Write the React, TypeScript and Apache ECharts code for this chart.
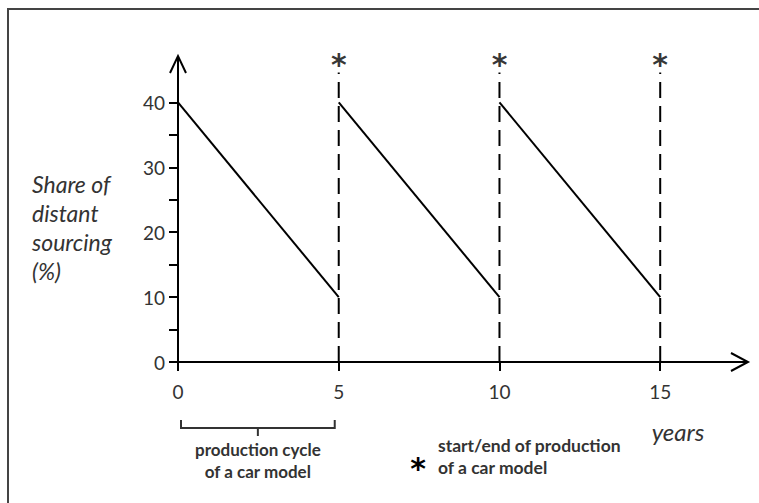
import React, { useEffect, useRef } from "react";
import * as echarts from "echarts";

// ---- data ----
const cycleStartYears = [0, 5, 10];
const cycleEndYears = [5, 10, 15];
const startShares = [40, 40, 40];
const endShares = [10, 10, 10];
const markerYears = [5, 10, 15];
const markerTop = 44.6;
const asteriskLevel = 45.8;
const xTickValues = [0, 5, 10, 15];
const yLabelValues = [0, 10, 20, 30, 40];
const yTickValues = [0, 5, 10, 15, 20, 25, 30, 35, 40];

// ---- layout ----
const W = 759;
const H = 503;
const gridLeft = 178;
const gridRight = 12;
const gridTop = 57;
const gridBottom = 141;
const xMin = 0;
const xMax = 17.7;
const yMin = 0;
const yMax = 47;
const FONT = "Lato, 'Open Sans', sans-serif";
const TXT = "#333";

export default function App() {
  const ref = useRef<HTMLDivElement>(null);
  useEffect(() => {
    if (!ref.current) return;
    const chart = echarts.init(ref.current, undefined, { renderer: "svg" });
    const plotW = W - gridLeft - gridRight;
    const xPx = (v: number) => gridLeft + ((v - xMin) / (xMax - xMin)) * plotW;
    const axisY = H - gridBottom;
    const xEndPx = W - gridRight;

    const cycleSeries = cycleStartYears.map((s, i) => ({
      type: "line",
      data: [
        [s, startShares[i]],
        [cycleEndYears[i], endShares[i]],
      ],
      symbol: "none",
      lineStyle: { color: "#000", width: 2 },
      silent: true,
      z: 3,
    }));
    const markerSeries = markerYears.map((m) => ({
      type: "line",
      data: [
        [m, 0],
        [m, markerTop],
      ],
      symbol: "none",
      lineStyle: { color: "#000", width: 2, type: [16, 8] },
      silent: true,
      z: 2,
    }));
    const asteriskSeries = {
      type: "scatter",
      data: markerYears.map((m) => [m, asteriskLevel]),
      symbolSize: 0,
      silent: true,
      label: {
        show: true,
        position: "inside",
        formatter: "*",
        fontSize: 30,
        fontWeight: "bold",
        fontFamily: "'DejaVu Sans', sans-serif",
        color: "#000",
      },
    };

    const bx0 = xPx(0) + 3;
    const bx1 = xPx(5) - 4;
    const bmid = (bx0 + bx1) / 2;

    chart.setOption({
      animation: false,
      backgroundColor: "#fff",
      grid: { left: gridLeft, right: gridRight, top: gridTop, bottom: gridBottom },
      xAxis: {
        type: "value",
        min: xMin,
        max: xMax,
        interval: 5,
        splitLine: { show: false },
        axisLine: { show: true, onZero: false, lineStyle: { color: "#000", width: 2 } },
        axisTick: { show: true, length: 9, customValues: xTickValues, lineStyle: { color: "#000", width: 2 } },
        axisLabel: {
          customValues: xTickValues,
          margin: 20,
          fontSize: 19,
          color: TXT,
          fontFamily: FONT,
        },
      },
      yAxis: {
        type: "value",
        min: yMin,
        max: yMax,
        interval: 5,
        splitLine: { show: false },
        axisLine: { show: true, onZero: false, lineStyle: { color: "#000", width: 2 } },
        axisTick: { show: true, length: 9, customValues: yTickValues, lineStyle: { color: "#000", width: 2 } },
        axisLabel: {
          customValues: yLabelValues,
          margin: 13,
          fontSize: 19,
          color: TXT,
          fontFamily: FONT,
        },
      },
      series: [...cycleSeries, ...markerSeries, asteriskSeries],
      graphic: [
        {
          type: "rect",
          shape: { x: 8, y: 9, width: 760, height: 500 },
          style: { fill: "none", stroke: "#444", lineWidth: 2 },
          silent: true,
        },
        {
          type: "polyline",
          shape: { points: [[gridLeft - 8, gridTop + 16], [gridLeft, gridTop - 1], [gridLeft + 8, gridTop + 16]] },
          style: { fill: "none", stroke: "#000", lineWidth: 2 },
          silent: true,
        },
        {
          type: "polyline",
          shape: { points: [[xEndPx - 16, axisY - 9], [xEndPx + 1, axisY], [xEndPx - 16, axisY + 9]] },
          style: { fill: "none", stroke: "#000", lineWidth: 2 },
          silent: true,
        },
        {
          type: "text",
          left: 32,
          top: 169,
          style: {
            text: "Share of\ndistant\nsourcing\n(%)",
            fontSize: 23,
            fontStyle: "italic",
            lineHeight: 29,
            fill: TXT,
            fontFamily: FONT,
          },
          silent: true,
        },
        {
          type: "polyline",
          shape: { points: [[bx0, axisY + 58], [bx0, axisY + 66], [bx1, axisY + 66], [bx1, axisY + 58]] },
          style: { fill: "none", stroke: "#333", lineWidth: 2 },
          silent: true,
        },
        {
          type: "line",
          shape: { x1: bmid, y1: axisY + 66, x2: bmid, y2: axisY + 74 },
          style: { stroke: "#333", lineWidth: 2 },
          silent: true,
        },
        {
          type: "text",
          x: bmid,
          y: axisY + 76,
          style: {
            text: "production cycle\nof a car model",
            fontSize: 17,
            fontWeight: "bold",
            lineHeight: 22,
            align: "center",
            verticalAlign: "top",
            fill: TXT,
            fontFamily: FONT,
          },
          silent: true,
        },
        {
          type: "text",
          x: 418,
          y: 468,
          style: {
            text: "*",
            fontSize: 30,
            fontWeight: "bold",
            align: "center",
            verticalAlign: "middle",
            fill: "#000",
            fontFamily: "'DejaVu Sans', sans-serif",
          },
          silent: true,
        },
        {
          type: "text",
          x: 438,
          y: 434,
          style: {
            text: "start/end of production\nof a car model",
            fontSize: 17.5,
            fontWeight: "bold",
            lineHeight: 22,
            verticalAlign: "top",
            fill: TXT,
            fontFamily: FONT,
          },
          silent: true,
        },
        {
          type: "text",
          x: 678,
          y: 431,
          style: {
            text: "years",
            fontSize: 24,
            fontStyle: "italic",
            align: "center",
            verticalAlign: "middle",
            fill: TXT,
            fontFamily: FONT,
          },
          silent: true,
        },
      ],
    });
    return () => chart.dispose();
  }, []);
  return (
    <div
      ref={ref}
      style={{ position: "fixed", left: 0, top: 0, width: W, height: H }}
    />
  );
}
